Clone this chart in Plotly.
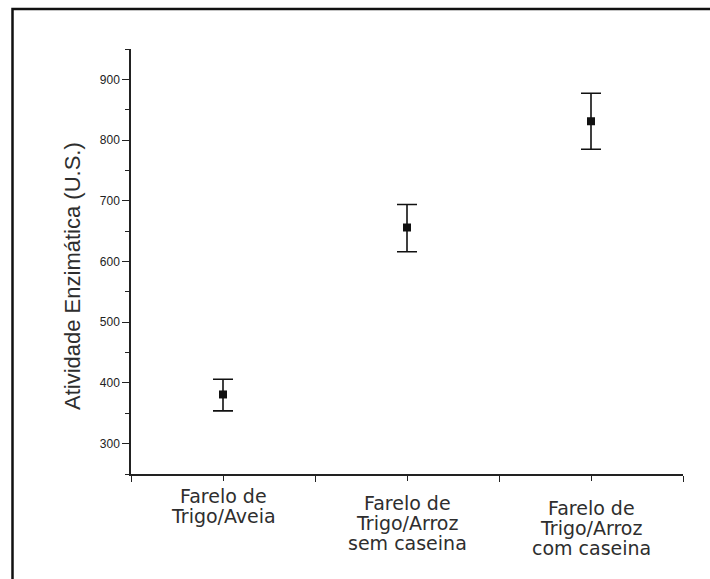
import plotly.graph_objects as go

# Enzyme activity by culture medium
categories = ["Farelo de<br>Trigo/Aveia",
              "Farelo de<br>Trigo/Arroz<br>sem caseina",
              "Farelo de<br>Trigo/Arroz<br>com caseina"]
positions = [1, 2, 3]
activity = [381, 656, 831]
err_plus = [25, 38, 46]
err_minus = [27, 40, 46]
y_ticks = [300, 400, 500, 600, 700, 800, 900]
y_title = "Atividade Enzimática (U.S.)"

W, H = 710, 579
ml, mr, mt, mb = 131, 27, 49, 105
pw = W - ml - mr
ph = H - mt - mb


def px_x(p):
    return (p - ml) / pw


def px_y(p):
    return (H - mb - p) / ph


fig = go.Figure()
fig.add_trace(go.Scatter(
    x=positions, y=activity, mode="markers",
    marker=dict(symbol="square", size=8, color="#111111"),
    error_y=dict(type="data", symmetric=False, array=err_plus,
                 arrayminus=err_minus, color="#111111", thickness=1.6, width=10),
    showlegend=False,
))

# category labels, one line at a time for tight line spacing
axis_font = dict(family="Verdana, DejaVu Sans, sans-serif", size=19, color="#2e2e2e")
label_offsets = [22, 29, 34]
for x, label, off in zip(positions, categories, label_offsets):
    for i, line in enumerate(label.split("<br>")):
        fig.add_annotation(x=x, y=0, xref="x", yref="paper", yanchor="middle",
                           yshift=-(off + 20 * i), text=line, showarrow=False,
                           font=axis_font)

# rotated y-axis title
fig.add_annotation(x=px_x(72), y=px_y(276), xref="paper", yref="paper",
                   xanchor="center", yanchor="middle", textangle=-90,
                   text=y_title, showarrow=False,
                   font=dict(family="Arial, Liberation Sans, sans-serif",
                             size=22, color="#2e2e2e"))

# outer frame around the figure
fig.add_shape(type="rect", xref="paper", yref="paper",
              x0=px_x(12.5), x1=px_x(730), y0=px_y(600), y1=px_y(9),
              line=dict(color="#111111", width=2.5), fillcolor="rgba(0,0,0,0)")

fig.update_layout(
    width=W, height=H,
    margin=dict(l=ml, r=mr, t=mt, b=mb),
    paper_bgcolor="white", plot_bgcolor="white",
    xaxis=dict(range=[0.5, 3.5], tickvals=positions, ticktext=[""] * 3,
               showgrid=False, zeroline=False, showline=True, linecolor="#222222",
               linewidth=1.5, ticks="outside", ticklen=5, tickwidth=1.2,
               tickcolor="#222222",
               minor=dict(tick0=0.5, dtick=1, ticks="outside", ticklen=6,
                          tickwidth=1.2, tickcolor="#222222")),
    yaxis=dict(range=[250, 950], tickvals=y_ticks,
               showgrid=False, zeroline=False, showline=True, linecolor="#222222",
               linewidth=1.5, ticks="outside", ticklen=7, tickwidth=1.2,
               tickcolor="#222222",
               tickfont=dict(family="Arial, Liberation Sans, sans-serif", size=12,
                             color="#222222"),
               minor=dict(tickvals=[250, 350, 450, 550, 650, 750, 850, 950],
                          ticks="outside", ticklen=4, tickwidth=1.2,
                          tickcolor="#222222")),
)

fig.write_html("out.html")
